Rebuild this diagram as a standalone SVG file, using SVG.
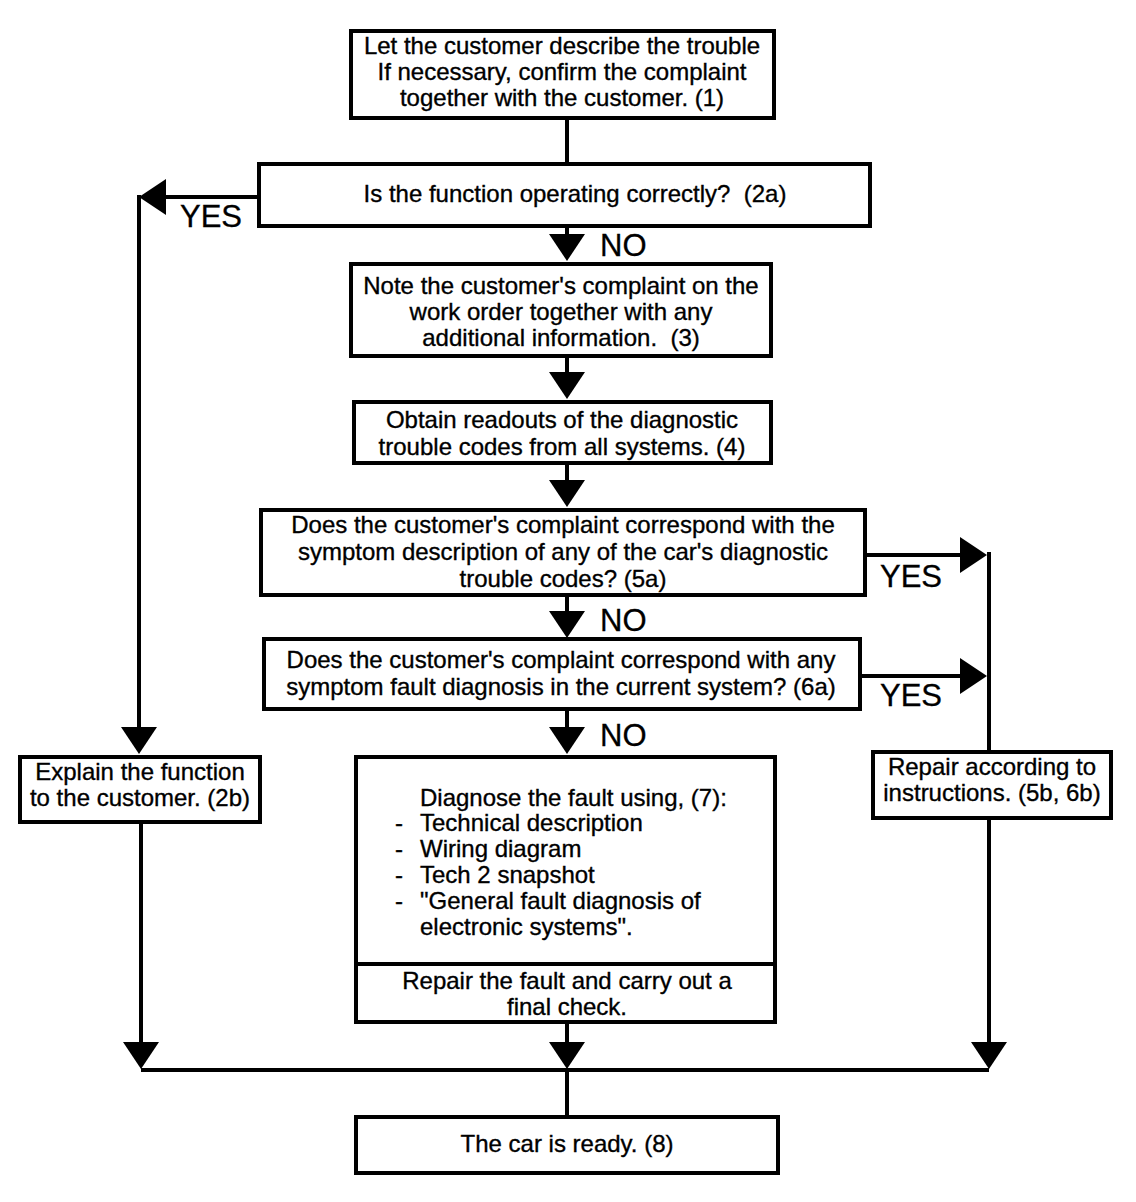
<svg xmlns="http://www.w3.org/2000/svg" width="1136" height="1202" viewBox="0 0 1136 1202">
<style>
.box{fill:#fff;stroke:#000;stroke-width:4}
.t{font-family:"Liberation Sans",Arial,sans-serif;font-size:24px;fill:#000;stroke:#000;stroke-width:0.35}
.c{text-anchor:middle}
.lbl{font-family:"Liberation Sans",Arial,sans-serif;font-size:31px;fill:#000;stroke:#000;stroke-width:0.3}
.ln{fill:none;stroke:#000;stroke-width:4}
</style>
<defs>
<marker id="ah" markerUnits="userSpaceOnUse" markerWidth="28" markerHeight="36" refX="20" refY="18" orient="auto">
<path d="M0,0 L27,18 L0,36 z" fill="#000"/>
</marker>
</defs>
<rect width="1136" height="1202" fill="#fff"/>
<g id="connectors">
<path class="ln" d="M567,120 V165"/>
<path class="ln" d="M259,197 H146" marker-end="url(#ah)"/>
<path class="ln" d="M139,195 V747" marker-end="url(#ah)"/>
<path class="ln" d="M567,227 V254" marker-end="url(#ah)"/>
<path class="ln" d="M567,358 V392" marker-end="url(#ah)"/>
<path class="ln" d="M567,465 V500" marker-end="url(#ah)"/>
<path class="ln" d="M866,555 H980" marker-end="url(#ah)"/>
<path class="ln" d="M989,552 V752"/>
<path class="ln" d="M567,597 V631" marker-end="url(#ah)"/>
<path class="ln" d="M862,676 H980" marker-end="url(#ah)"/>
<path class="ln" d="M567,711 V747" marker-end="url(#ah)"/>
<path class="ln" d="M141,823 V1062" marker-end="url(#ah)"/>
<path class="ln" d="M567,1024 V1062" marker-end="url(#ah)"/>
<path class="ln" d="M989,820 V1062" marker-end="url(#ah)"/>
<path class="ln" d="M141,1070 H989"/>
<path class="ln" d="M567,1070 V1117"/>
<text class="lbl" x="180" y="227">YES</text>
<text class="lbl" x="600" y="256">NO</text>
<text class="lbl" x="880" y="587">YES</text>
<text class="lbl" x="600" y="631">NO</text>
<text class="lbl" x="880" y="706">YES</text>
<text class="lbl" x="600" y="746">NO</text>
</g>
<g id="n1">
<rect class="box" x="351" y="31" width="423" height="87"/>
<text class="t c" x="562" y="54">Let the customer describe the trouble</text>
<text class="t c" x="562" y="80">If necessary, confirm the complaint</text>
<text class="t c" x="562" y="106">together with the customer. (1)</text>
</g>
<g id="n2a">
<rect class="box" x="259" y="164" width="611" height="62"/>
<text class="t c" x="575" y="202" xml:space="preserve">Is the function operating correctly?  (2a)</text>
</g>
<g id="n3">
<rect class="box" x="351" y="264" width="420" height="92"/>
<text class="t c" x="561" y="294">Note the customer's complaint on the</text>
<text class="t c" x="561" y="320">work order together with any</text>
<text class="t c" x="561" y="346" xml:space="preserve">additional information.  (3)</text>
</g>
<g id="n4">
<rect class="box" x="354" y="402" width="417" height="61"/>
<text class="t c" x="562" y="428">Obtain readouts of the diagnostic</text>
<text class="t c" x="562" y="455">trouble codes from all systems. (4)</text>
</g>
<g id="n5a">
<rect class="box" x="261" y="510" width="604" height="85"/>
<text class="t c" x="563" y="533">Does the customer's complaint correspond with the</text>
<text class="t c" x="563" y="560">symptom description of any of the car's diagnostic</text>
<text class="t c" x="563" y="587">trouble codes? (5a)</text>
</g>
<g id="n6a">
<rect class="box" x="264" y="639" width="596" height="70"/>
<text class="t c" x="561" y="668">Does the customer's complaint correspond with any</text>
<text class="t c" x="561" y="695">symptom fault diagnosis in the current system? (6a)</text>
</g>
<g id="n7">
<rect class="box" x="356" y="757" width="419" height="265"/>
<path class="ln" d="M356,964 H775"/>
<text class="t" x="420" y="806">Diagnose the fault using, (7):</text>
<text class="t" x="395" y="831">-</text><text class="t" x="420" y="831">Technical description</text>
<text class="t" x="395" y="857">-</text><text class="t" x="420" y="857">Wiring diagram</text>
<text class="t" x="395" y="883">-</text><text class="t" x="420" y="883">Tech 2 snapshot</text>
<text class="t" x="395" y="909">-</text><text class="t" x="420" y="909">"General fault diagnosis of</text>
<text class="t" x="420" y="935">electronic systems".</text>
<text class="t c" x="567" y="989">Repair the fault and carry out a</text>
<text class="t c" x="567" y="1015">final check.</text>
</g>
<g id="n2b">
<rect class="box" x="20" y="757" width="240" height="65"/>
<text class="t c" x="140" y="780">Explain the function</text>
<text class="t c" x="140" y="806">to the customer. (2b)</text>
</g>
<g id="n5b6b">
<rect class="box" x="873" y="752" width="238" height="66"/>
<text class="t c" x="992" y="775">Repair according to</text>
<text class="t c" x="992" y="801">instructions. (5b, 6b)</text>
</g>
<g id="n8">
<rect class="box" x="356" y="1117" width="422" height="56"/>
<text class="t c" x="567" y="1152">The car is ready. (8)</text>
</g>
</svg>
